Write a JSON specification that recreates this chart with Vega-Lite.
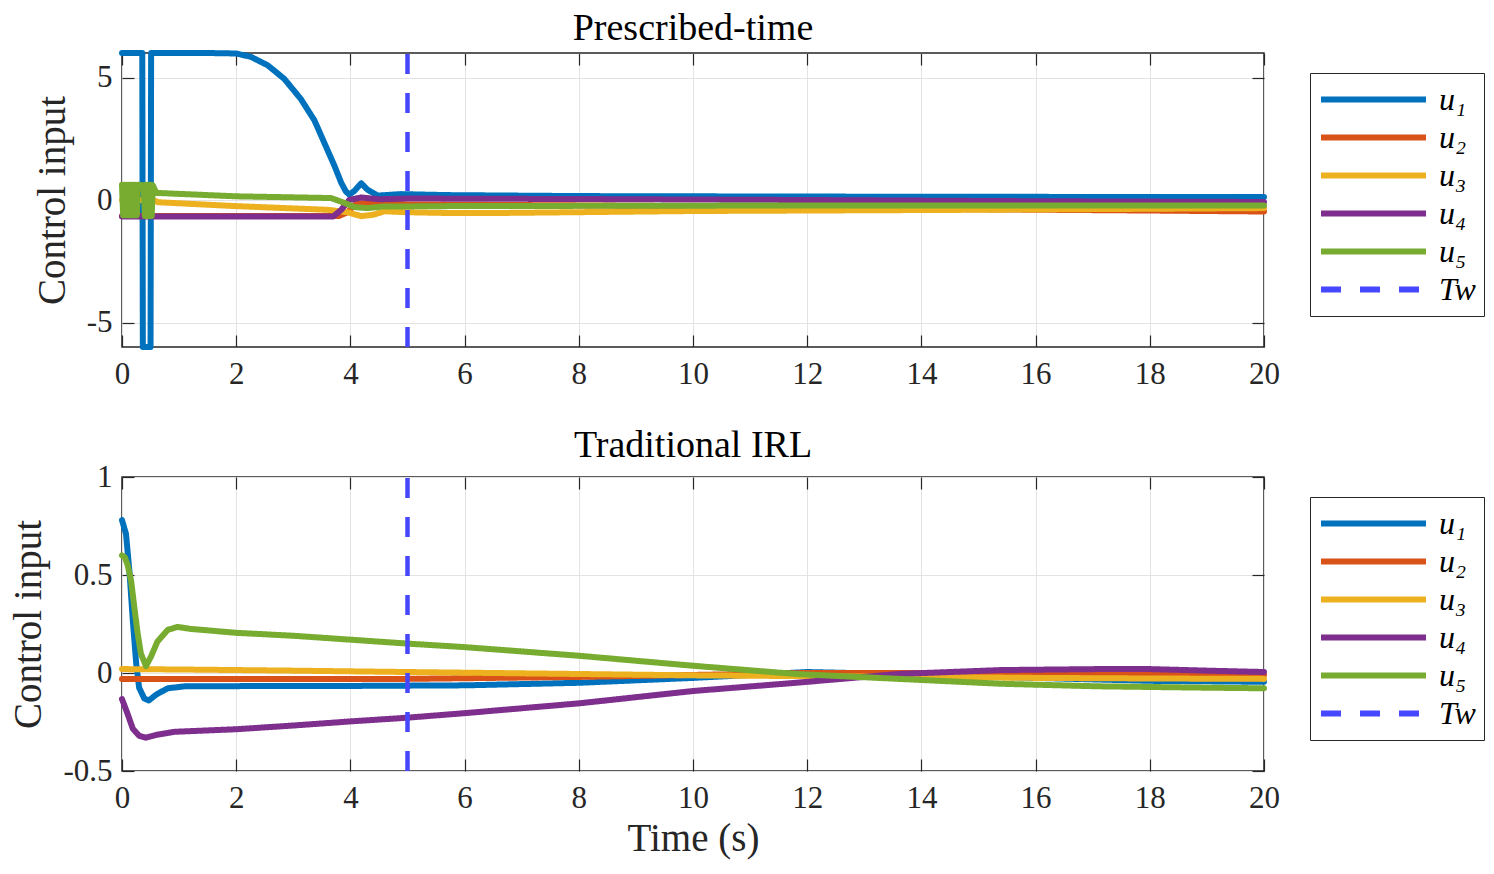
{
  "$schema": "https://vega.github.io/schema/vega-lite/v6.json",
  "padding": {"left": 9, "top": 9, "right": 5, "bottom": 5},
  "background": "white",
  "datasets": {
    "top": [
      {"t": 0, "v": 6, "s": "u₁"}, {"t": 0.355, "v": 6, "s": "u₁"}, {"t": 0.365, "v": -6, "s": "u₁"}, {"t": 0.5, "v": -6, "s": "u₁"}, {"t": 0.51, "v": 6, "s": "u₁"},
      {"t": 1, "v": 6, "s": "u₁"}, {"t": 1.5, "v": 6, "s": "u₁"}, {"t": 2, "v": 5.98, "s": "u₁"}, {"t": 2.26, "v": 5.84, "s": "u₁"}, {"t": 2.55, "v": 5.5, "s": "u₁"},
      {"t": 2.84, "v": 4.95, "s": "u₁"}, {"t": 3.13, "v": 4.13, "s": "u₁"}, {"t": 3.37, "v": 3.25, "s": "u₁"}, {"t": 3.54, "v": 2.35, "s": "u₁"}, {"t": 3.72, "v": 1.4, "s": "u₁"},
      {"t": 3.84, "v": 0.7, "s": "u₁"}, {"t": 3.92, "v": 0.35, "s": "u₁"}, {"t": 3.98, "v": 0.22, "s": "u₁"}, {"t": 4.07, "v": 0.37, "s": "u₁"}, {"t": 4.19, "v": 0.68, "s": "u₁"},
      {"t": 4.3, "v": 0.42, "s": "u₁"}, {"t": 4.48, "v": 0.18, "s": "u₁"}, {"t": 4.89, "v": 0.24, "s": "u₁"}, {"t": 5.7, "v": 0.2, "s": "u₁"}, {"t": 8, "v": 0.16, "s": "u₁"},
      {"t": 10, "v": 0.15, "s": "u₁"}, {"t": 12, "v": 0.14, "s": "u₁"}, {"t": 15, "v": 0.13, "s": "u₁"}, {"t": 20, "v": 0.12, "s": "u₁"},

      {"t": 0, "v": -0.65, "s": "u₂"}, {"t": 3.8, "v": -0.65, "s": "u₂"}, {"t": 3.95, "v": -0.5, "s": "u₂"}, {"t": 4.1, "v": -0.15, "s": "u₂"}, {"t": 4.4, "v": -0.12, "s": "u₂"},
      {"t": 5, "v": -0.18, "s": "u₂"}, {"t": 8, "v": -0.22, "s": "u₂"}, {"t": 12, "v": -0.28, "s": "u₂"}, {"t": 15, "v": -0.38, "s": "u₂"}, {"t": 18, "v": -0.43, "s": "u₂"}, {"t": 20, "v": -0.47, "s": "u₂"},

      {"t": 0, "v": 0, "s": "u₃"}, {"t": 0.55, "v": 0, "s": "u₃"}, {"t": 0.63, "v": -0.09, "s": "u₃"}, {"t": 2, "v": -0.25, "s": "u₃"}, {"t": 3.6, "v": -0.4, "s": "u₃"},
      {"t": 3.95, "v": -0.5, "s": "u₃"}, {"t": 4.19, "v": -0.66, "s": "u₃"}, {"t": 4.4, "v": -0.6, "s": "u₃"}, {"t": 4.6, "v": -0.46, "s": "u₃"}, {"t": 5, "v": -0.5, "s": "u₃"},
      {"t": 5.7, "v": -0.53, "s": "u₃"}, {"t": 6.6, "v": -0.53, "s": "u₃"}, {"t": 10, "v": -0.45, "s": "u₃"}, {"t": 15, "v": -0.4, "s": "u₃"}, {"t": 20, "v": -0.33, "s": "u₃"},

      {"t": 0, "v": -0.67, "s": "u₄"}, {"t": 3.7, "v": -0.67, "s": "u₄"}, {"t": 3.84, "v": -0.4, "s": "u₄"}, {"t": 3.98, "v": 0, "s": "u₄"}, {"t": 4.19, "v": 0.1, "s": "u₄"},
      {"t": 4.5, "v": 0.03, "s": "u₄"}, {"t": 5, "v": 0.06, "s": "u₄"}, {"t": 8, "v": 0.04, "s": "u₄"}, {"t": 12, "v": 0, "s": "u₄"}, {"t": 16, "v": -0.05, "s": "u₄"}, {"t": 20, "v": -0.08, "s": "u₄"},

      {"t": 0, "v": 0.62, "s": "u₅"}, {"t": 0.02, "v": -0.62, "s": "u₅"}, {"t": 0.04, "v": 0.62, "s": "u₅"}, {"t": 0.06, "v": -0.62, "s": "u₅"}, {"t": 0.08, "v": 0.62, "s": "u₅"},
      {"t": 0.1, "v": -0.62, "s": "u₅"}, {"t": 0.12, "v": 0.62, "s": "u₅"}, {"t": 0.14, "v": -0.62, "s": "u₅"}, {"t": 0.16, "v": 0.62, "s": "u₅"}, {"t": 0.18, "v": -0.62, "s": "u₅"},
      {"t": 0.2, "v": 0.62, "s": "u₅"}, {"t": 0.22, "v": -0.62, "s": "u₅"}, {"t": 0.24, "v": 0.62, "s": "u₅"}, {"t": 0.26, "v": -0.62, "s": "u₅"}, {"t": 0.28, "v": 0.62, "s": "u₅"},
      {"t": 0.38, "v": 0.6, "s": "u₅"}, {"t": 0.4, "v": -0.65, "s": "u₅"}, {"t": 0.42, "v": 0.62, "s": "u₅"}, {"t": 0.44, "v": -0.65, "s": "u₅"}, {"t": 0.46, "v": 0.62, "s": "u₅"},
      {"t": 0.48, "v": -0.65, "s": "u₅"}, {"t": 0.5, "v": 0.62, "s": "u₅"}, {"t": 0.52, "v": -0.65, "s": "u₅"}, {"t": 0.54, "v": 0.6, "s": "u₅"}, {"t": 0.6, "v": 0.29, "s": "u₅"},
      {"t": 2, "v": 0.15, "s": "u₅"}, {"t": 3.66, "v": 0.08, "s": "u₅"}, {"t": 3.9, "v": -0.12, "s": "u₅"}, {"t": 4.07, "v": -0.29, "s": "u₅"}, {"t": 4.3, "v": -0.33, "s": "u₅"},
      {"t": 4.55, "v": -0.27, "s": "u₅"}, {"t": 5.7, "v": -0.25, "s": "u₅"}, {"t": 10, "v": -0.23, "s": "u₅"}, {"t": 20, "v": -0.22, "s": "u₅"},

      {"t": 5, "v": -6, "s": "Tw"}, {"t": 5, "v": 6, "s": "Tw"}
    ],
    "bottom": [
      {"t": 0, "v": 0.78, "s": "u₁"}, {"t": 0.07, "v": 0.71, "s": "u₁"}, {"t": 0.13, "v": 0.52, "s": "u₁"}, {"t": 0.19, "v": 0.265, "s": "u₁"}, {"t": 0.25, "v": 0.045, "s": "u₁"},
      {"t": 0.3, "v": -0.075, "s": "u₁"}, {"t": 0.39, "v": -0.13, "s": "u₁"}, {"t": 0.47, "v": -0.14, "s": "u₁"}, {"t": 0.6, "v": -0.11, "s": "u₁"}, {"t": 0.8, "v": -0.078, "s": "u₁"},
      {"t": 1.1, "v": -0.068, "s": "u₁"}, {"t": 2, "v": -0.067, "s": "u₁"}, {"t": 4, "v": -0.066, "s": "u₁"}, {"t": 6, "v": -0.063, "s": "u₁"}, {"t": 8, "v": -0.05, "s": "u₁"},
      {"t": 10, "v": -0.025, "s": "u₁"}, {"t": 12, "v": 0.005, "s": "u₁"}, {"t": 14, "v": -0.008, "s": "u₁"}, {"t": 16, "v": -0.025, "s": "u₁"}, {"t": 18, "v": -0.04, "s": "u₁"}, {"t": 20, "v": -0.045, "s": "u₁"},

      {"t": 0, "v": -0.03, "s": "u₂"}, {"t": 2, "v": -0.03, "s": "u₂"}, {"t": 5, "v": -0.03, "s": "u₂"}, {"t": 8, "v": -0.02, "s": "u₂"}, {"t": 10, "v": -0.01, "s": "u₂"},
      {"t": 12, "v": 0, "s": "u₂"}, {"t": 14, "v": 0, "s": "u₂"}, {"t": 16, "v": -0.005, "s": "u₂"}, {"t": 20, "v": -0.01, "s": "u₂"},

      {"t": 0, "v": 0.02, "s": "u₃"}, {"t": 1, "v": 0.018, "s": "u₃"}, {"t": 3, "v": 0.012, "s": "u₃"}, {"t": 5, "v": 0.005, "s": "u₃"}, {"t": 8, "v": -0.005, "s": "u₃"},
      {"t": 10, "v": -0.012, "s": "u₃"}, {"t": 12, "v": -0.016, "s": "u₃"}, {"t": 14, "v": -0.02, "s": "u₃"}, {"t": 16, "v": -0.025, "s": "u₃"}, {"t": 18, "v": -0.028, "s": "u₃"}, {"t": 20, "v": -0.03, "s": "u₃"},

      {"t": 0, "v": -0.133, "s": "u₄"}, {"t": 0.1, "v": -0.21, "s": "u₄"}, {"t": 0.19, "v": -0.285, "s": "u₄"}, {"t": 0.3, "v": -0.32, "s": "u₄"}, {"t": 0.42, "v": -0.33, "s": "u₄"},
      {"t": 0.6, "v": -0.316, "s": "u₄"}, {"t": 0.92, "v": -0.3, "s": "u₄"}, {"t": 2, "v": -0.287, "s": "u₄"}, {"t": 3, "v": -0.268, "s": "u₄"}, {"t": 4, "v": -0.247, "s": "u₄"},
      {"t": 5, "v": -0.228, "s": "u₄"}, {"t": 6, "v": -0.205, "s": "u₄"}, {"t": 8, "v": -0.155, "s": "u₄"}, {"t": 10, "v": -0.092, "s": "u₄"}, {"t": 11.8, "v": -0.05, "s": "u₄"},
      {"t": 13.6, "v": -0.005, "s": "u₄"}, {"t": 15.4, "v": 0.015, "s": "u₄"}, {"t": 17.1, "v": 0.02, "s": "u₄"}, {"t": 18, "v": 0.02, "s": "u₄"}, {"t": 19, "v": 0.012, "s": "u₄"}, {"t": 20, "v": 0.005, "s": "u₄"},

      {"t": 0, "v": 0.6, "s": "u₅"}, {"t": 0.05, "v": 0.59, "s": "u₅"}, {"t": 0.1, "v": 0.55, "s": "u₅"}, {"t": 0.16, "v": 0.47, "s": "u₅"}, {"t": 0.21, "v": 0.35, "s": "u₅"},
      {"t": 0.27, "v": 0.21, "s": "u₅"}, {"t": 0.33, "v": 0.1, "s": "u₅"}, {"t": 0.42, "v": 0.035, "s": "u₅"}, {"t": 0.51, "v": 0.085, "s": "u₅"}, {"t": 0.62, "v": 0.16, "s": "u₅"},
      {"t": 0.8, "v": 0.22, "s": "u₅"}, {"t": 0.97, "v": 0.235, "s": "u₅"}, {"t": 1.2, "v": 0.225, "s": "u₅"}, {"t": 2, "v": 0.205, "s": "u₅"}, {"t": 3, "v": 0.19, "s": "u₅"},
      {"t": 4, "v": 0.17, "s": "u₅"}, {"t": 5, "v": 0.15, "s": "u₅"}, {"t": 6, "v": 0.132, "s": "u₅"}, {"t": 8, "v": 0.088, "s": "u₅"}, {"t": 10, "v": 0.037, "s": "u₅"},
      {"t": 11.8, "v": -0.005, "s": "u₅"}, {"t": 13.6, "v": -0.03, "s": "u₅"}, {"t": 15.4, "v": -0.055, "s": "u₅"}, {"t": 17.1, "v": -0.068, "s": "u₅"}, {"t": 19, "v": -0.075, "s": "u₅"}, {"t": 20, "v": -0.078, "s": "u₅"},

      {"t": 5, "v": -0.5, "s": "Tw"}, {"t": 5, "v": 1, "s": "Tw"}
    ]
  },
  "vconcat": [
    {
      "data": {"name": "top"},
      "width": 1142,
      "height": 294,
      "title": {"text": "Prescribed-time"},
      "layer": [
        {
          "transform": [{"filter": "datum.s != 'Tw'"}],
          "mark": {"type": "line", "strokeWidth": 6, "strokeCap": "round", "strokeJoin": "round"},
          "encoding": {
            "x": {"field": "t", "type": "quantitative", "scale": {"domain": [0, 20], "nice": false},
                  "axis": {"title": null, "values": [0, 2, 4, 6, 8, 10, 12, 14, 16, 18, 20], "grid": true}},
            "y": {"field": "v", "type": "quantitative", "scale": {"domain": [-6, 6], "nice": false, "zero": false},
                  "axis": {"title": "Control input", "values": [-5, 0, 5], "grid": true, "labelExpr": "replace(format(datum.value, '~g'), '−', '-')"}},
            "color": {"field": "s", "type": "nominal", "sort": null, "title": null,
                      "scale": {"domain": ["u₁", "u₂", "u₃", "u₄", "u₅", "Tw"], "range": ["#0072BD", "#D95319", "#EDB120", "#7E2F8E", "#77AC30", "#4747FF"]}},
            "strokeDash": {"field": "s", "type": "nominal", "sort": null, "title": null,
                           "scale": {"domain": ["u₁", "u₂", "u₃", "u₄", "u₅", "Tw"], "range": [[1, 0], [1, 0], [1, 0], [1, 0], [1, 0], [20, 19]]}}
          }
        },
        {
          "transform": [{"filter": "datum.s == 'Tw'"}],
          "mark": {"type": "line", "strokeWidth": 4.5},
          "encoding": {
            "x": {"field": "t", "type": "quantitative",
                  "axis": {"orient": "top", "title": null, "labels": false, "grid": false, "values": [0, 2, 4, 6, 8, 10, 12, 14, 16, 18, 20]}},
            "y": {"field": "v", "type": "quantitative",
                  "axis": {"orient": "right", "title": null, "labels": false, "grid": false, "values": [-5, 0, 5]}},
            "color": {"field": "s", "type": "nominal", "sort": null, "title": null},
            "strokeDash": {"field": "s", "type": "nominal", "sort": null, "title": null}
          }
        }
      ],
      "resolve": {"axis": {"x": "independent", "y": "independent"}}
    },
    {
      "data": {"name": "bottom"},
      "width": 1142,
      "height": 294,
      "title": {"text": "Traditional IRL"},
      "layer": [
        {
          "transform": [{"filter": "datum.s != 'Tw'"}],
          "mark": {"type": "line", "strokeWidth": 6, "strokeCap": "round", "strokeJoin": "round"},
          "encoding": {
            "x": {"field": "t", "type": "quantitative", "scale": {"domain": [0, 20], "nice": false},
                  "axis": {"title": "Time (s)", "values": [0, 2, 4, 6, 8, 10, 12, 14, 16, 18, 20], "grid": true}},
            "y": {"field": "v", "type": "quantitative", "scale": {"domain": [-0.5, 1], "nice": false, "zero": false},
                  "axis": {"title": "Control input", "values": [-0.5, 0, 0.5, 1], "grid": true, "labelExpr": "replace(format(datum.value, '~g'), '−', '-')"}},
            "color": {"field": "s", "type": "nominal", "sort": null, "title": null,
                      "scale": {"domain": ["u₁", "u₂", "u₃", "u₄", "u₅", "Tw"], "range": ["#0072BD", "#D95319", "#EDB120", "#7E2F8E", "#77AC30", "#4747FF"]}},
            "strokeDash": {"field": "s", "type": "nominal", "sort": null, "title": null,
                           "scale": {"domain": ["u₁", "u₂", "u₃", "u₄", "u₅", "Tw"], "range": [[1, 0], [1, 0], [1, 0], [1, 0], [1, 0], [20, 19]]}}
          }
        },
        {
          "transform": [{"filter": "datum.s == 'Tw'"}],
          "mark": {"type": "line", "strokeWidth": 4.5},
          "encoding": {
            "x": {"field": "t", "type": "quantitative",
                  "axis": {"orient": "top", "title": null, "labels": false, "grid": false, "values": [0, 2, 4, 6, 8, 10, 12, 14, 16, 18, 20]}},
            "y": {"field": "v", "type": "quantitative",
                  "axis": {"orient": "right", "title": null, "labels": false, "grid": false, "values": [-0.5, 0, 0.5, 1]}},
            "color": {"field": "s", "type": "nominal", "sort": null, "title": null},
            "strokeDash": {"field": "s", "type": "nominal", "sort": null, "title": null}
          }
        }
      ],
      "resolve": {"axis": {"x": "independent", "y": "independent"}}
    }
  ],
  "spacing": 36,
  "resolve": {"scale": {"color": "independent", "strokeDash": "independent"}, "legend": {"color": "independent", "strokeDash": "independent"}},
  "config": {
    "font": "Liberation Serif",
    "view": {"stroke": "#262626", "strokeWidth": 1.5},
    "title": {"fontSize": 38, "fontWeight": "normal", "color": "#000000", "font": "Liberation Serif", "offset": -4},
    "axis": {
      "domain": false,
      "tickSize": -12,
      "tickColor": "#262626",
      "tickWidth": 1.2,
      "labelFont": "Liberation Serif",
      "labelFontSize": 31,
      "labelColor": "#262626",
      "labelPadding": 24,
      "titleFont": "Liberation Serif",
      "titleFontSize": 39,
      "titleFontWeight": "normal",
      "titleColor": "#262626",
      "gridColor": "#e3e3e3",
      "gridWidth": 1
    },
    "axisY": {"labelPadding": 22, "titlePadding": 14},
    "axisX": {"titlePadding": 6, "labelFlush": false},
    "legend": {
      "orient": "none",
      "legendX": 1188,
      "legendY": 20,
      "symbolType": "stroke",
      "symbolSize": 11025,
      "symbolStrokeWidth": 6,
      "clipHeight": 37,
      "rowPadding": 1,
      "padding": 8,
      "labelFont": "Liberation Serif",
      "labelFontStyle": "italic",
      "labelFontSize": 32,
      "labelColor": "#000000",
      "labelOffset": 10,
      "strokeColor": "#262626",
      "fillColor": "#ffffff"
    }
  }
}
